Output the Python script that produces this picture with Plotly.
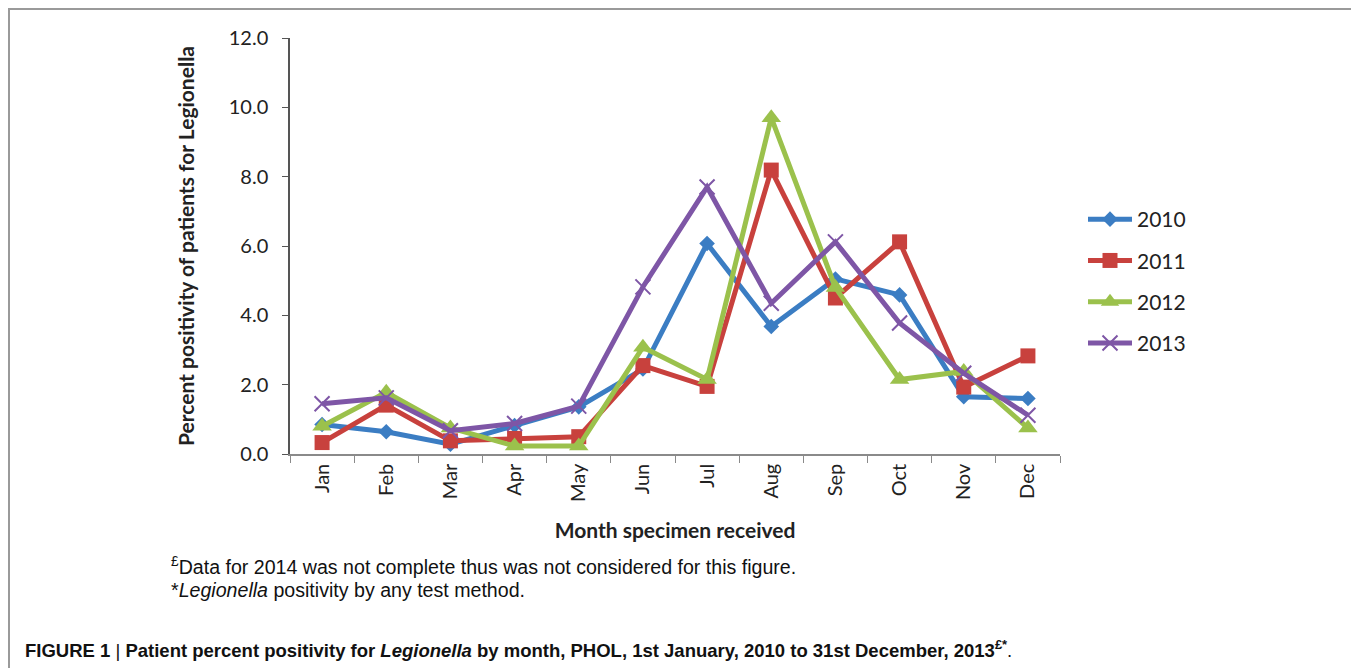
import plotly.graph_objects as go

months = ["Jan", "Feb", "Mar", "Apr", "May", "Jun", "Jul", "Aug", "Sep", "Oct", "Nov", "Dec"]
y2010 = [0.85, 0.64, 0.28, 0.82, 1.36, 2.45, 6.07, 3.68, 5.05, 4.59, 1.65, 1.6]
y2011 = [0.33, 1.41, 0.38, 0.45, 0.5, 2.55, 1.95, 8.19, 4.5, 6.12, 1.93, 2.83]
y2012 = [0.8, 1.78, 0.75, 0.23, 0.23, 3.08, 2.15, 9.7, 4.8, 2.15, 2.38, 0.75]
y2013 = [1.45, 1.62, 0.67, 0.88, 1.38, 4.82, 7.7, 4.35, 6.12, 3.78, 2.33, 1.12]
years = ["2010", "2011", "2012", "2013"]
y_ticks = [0, 2, 4, 6, 8, 10, 12]

series = [y2010, y2011, y2012, y2013]
colors = ["#3B7DC3", "#C8413D", "#9BC14C", "#7E56A6"]
symbols = ["diamond", "square", "triangle-up", "x-thin"]
sizes = [12, 15, 17, 15]

OFF = 8  # page body margin offset
W, H = 1359 - OFF, 668 - OFF
L, R, T, B = 290 - OFF, 1060 - OFF, 38 - OFF, 454 - OFF
pw, ph = R - L, B - T

def px(x):
    return (x - OFF - L) / pw

def py(y):
    return (B - (y - OFF)) / ph

fig = go.Figure()
for name, vals, c, s, sz in zip(years, series, colors, symbols, sizes):
    marker = dict(symbol=s, size=sz, color=c)
    if s == "x-thin":
        marker["line"] = dict(color=c, width=2)
    fig.add_trace(go.Scatter(
        x=months, y=vals, name=name, mode="lines+markers",
        line=dict(color=c, width=5), marker=marker, legendgroup=name,
    ))

fig.update_layout(
    width=W, height=H,
    margin=dict(l=L, r=W - R, t=T, b=H - B),
    paper_bgcolor="white", plot_bgcolor="white",
    font=dict(family="Lato, Carlito, sans-serif", color="#222"),
    showlegend=True,
    legend=dict(x=px(1083), y=py(199), xanchor="left", yanchor="top",
                font=dict(size=21, family="Lato, sans-serif", color="#222"),
                tracegroupgap=11, itemwidth=44, bgcolor="rgba(0,0,0,0)"),
    xaxis=dict(
        type="category", tickson="boundaries", ticks="outside", ticklen=7,
        tickcolor="#8a8a8a", showline=True, linecolor="#8a8a8a", linewidth=1.5,
        showgrid=False, tickangle=-90, tickfont=dict(size=20, color="#222"),
        title=dict(text="<b>Month specimen received</b>", font=dict(size=21, color="#222"), standoff=22),
        range=[-0.5, 11.5],
    ),
    yaxis=dict(
        range=[0, 12], tickvals=y_ticks, ticktext=[f"{v:.1f}" for v in y_ticks],
        ticks="outside", ticklen=6, tickcolor="#555", showline=True,
        linecolor="#555", linewidth=1.5, showgrid=False, zeroline=False,
        tickfont=dict(size=20, color="#222"), ticklabelstandoff=10,
        title=dict(text="<b>Percent positivity of patients for Legionella</b>",
                   font=dict(size=21, color="#222"), standoff=28),
    ),
)

# Border around the figure panel
fig.add_shape(type="rect", xref="paper", yref="paper",
              x0=px(9), x1=px(1354), y0=py(700), y1=py(9),
              line=dict(color="#9a9a9a", width=2), layer="below")

foot_font = dict(family="Liberation Sans, Arial, sans-serif", size=19.6, color="#111")
fig.add_annotation(xref="paper", yref="paper", x=px(169), y=py(566),
                   xanchor="left", yanchor="middle", showarrow=False,
                   text="<sup>£</sup>Data for 2014 was not complete thus was not considered for this figure.",
                   font=foot_font)
fig.add_annotation(xref="paper", yref="paper", x=px(169), y=py(590),
                   xanchor="left", yanchor="middle", showarrow=False,
                   text="*<i>Legionella</i> positivity by any test method.",
                   font=foot_font)
fig.add_annotation(xref="paper", yref="paper", x=px(23), y=py(649),
                   xanchor="left", yanchor="middle", showarrow=False,
                   text="<b>FIGURE 1</b> | <b>Patient percent positivity for <i>Legionella</i> by month, PHOL, 1st January, 2010 to 31st December, 2013<sup>£*</sup></b>.",
                   font=dict(family="Liberation Sans, Arial, sans-serif", size=18.5, color="#111"))

fig.write_html("out.html")
